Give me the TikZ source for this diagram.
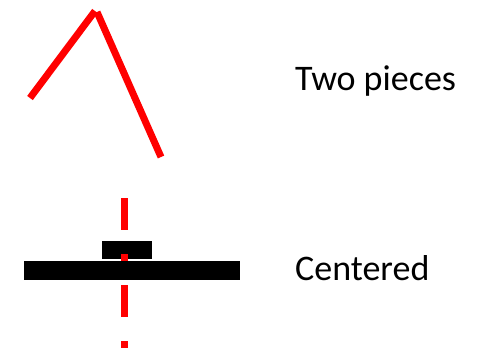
\documentclass[tikz,border=0pt]{standalone}
\usepackage{fontspec}
\setmainfont{Carlito}
\tikzset{
	piece/.style={draw=red, line width=7pt},
	axis/.style={draw=red, line width=7pt, dash pattern=on 32pt off 24pt on 7pt off 24pt},
	label/.style={anchor=base west, inner sep=0pt, font=\fontsize{36}{40}\selectfont}
}

\begin{document}
\begin{tikzpicture}[x=1pt, y=-1pt]
		%%%%% START %%%%%
		\useasboundingbox (0, 0) rectangle (486, 357);
		
		% two pieces
		\draw[piece] (30, 98) -- (95, 11);
		\draw[piece] (97, 12) -- (161, 157);
		\node[label] (twopieces) at (295, 90) {Two pieces};
		
		% centered
		\draw[fill=black] (102, 241) rectangle (151, 258);
		\draw[fill=black] (24, 261) rectangle (239, 279);
		\draw[axis] (124, 198) -- (124, 352);
		\node[label] (centered) at (295, 280) {Centered};
		%%%%% END %%%%%
	\end{tikzpicture}
\end{document}
